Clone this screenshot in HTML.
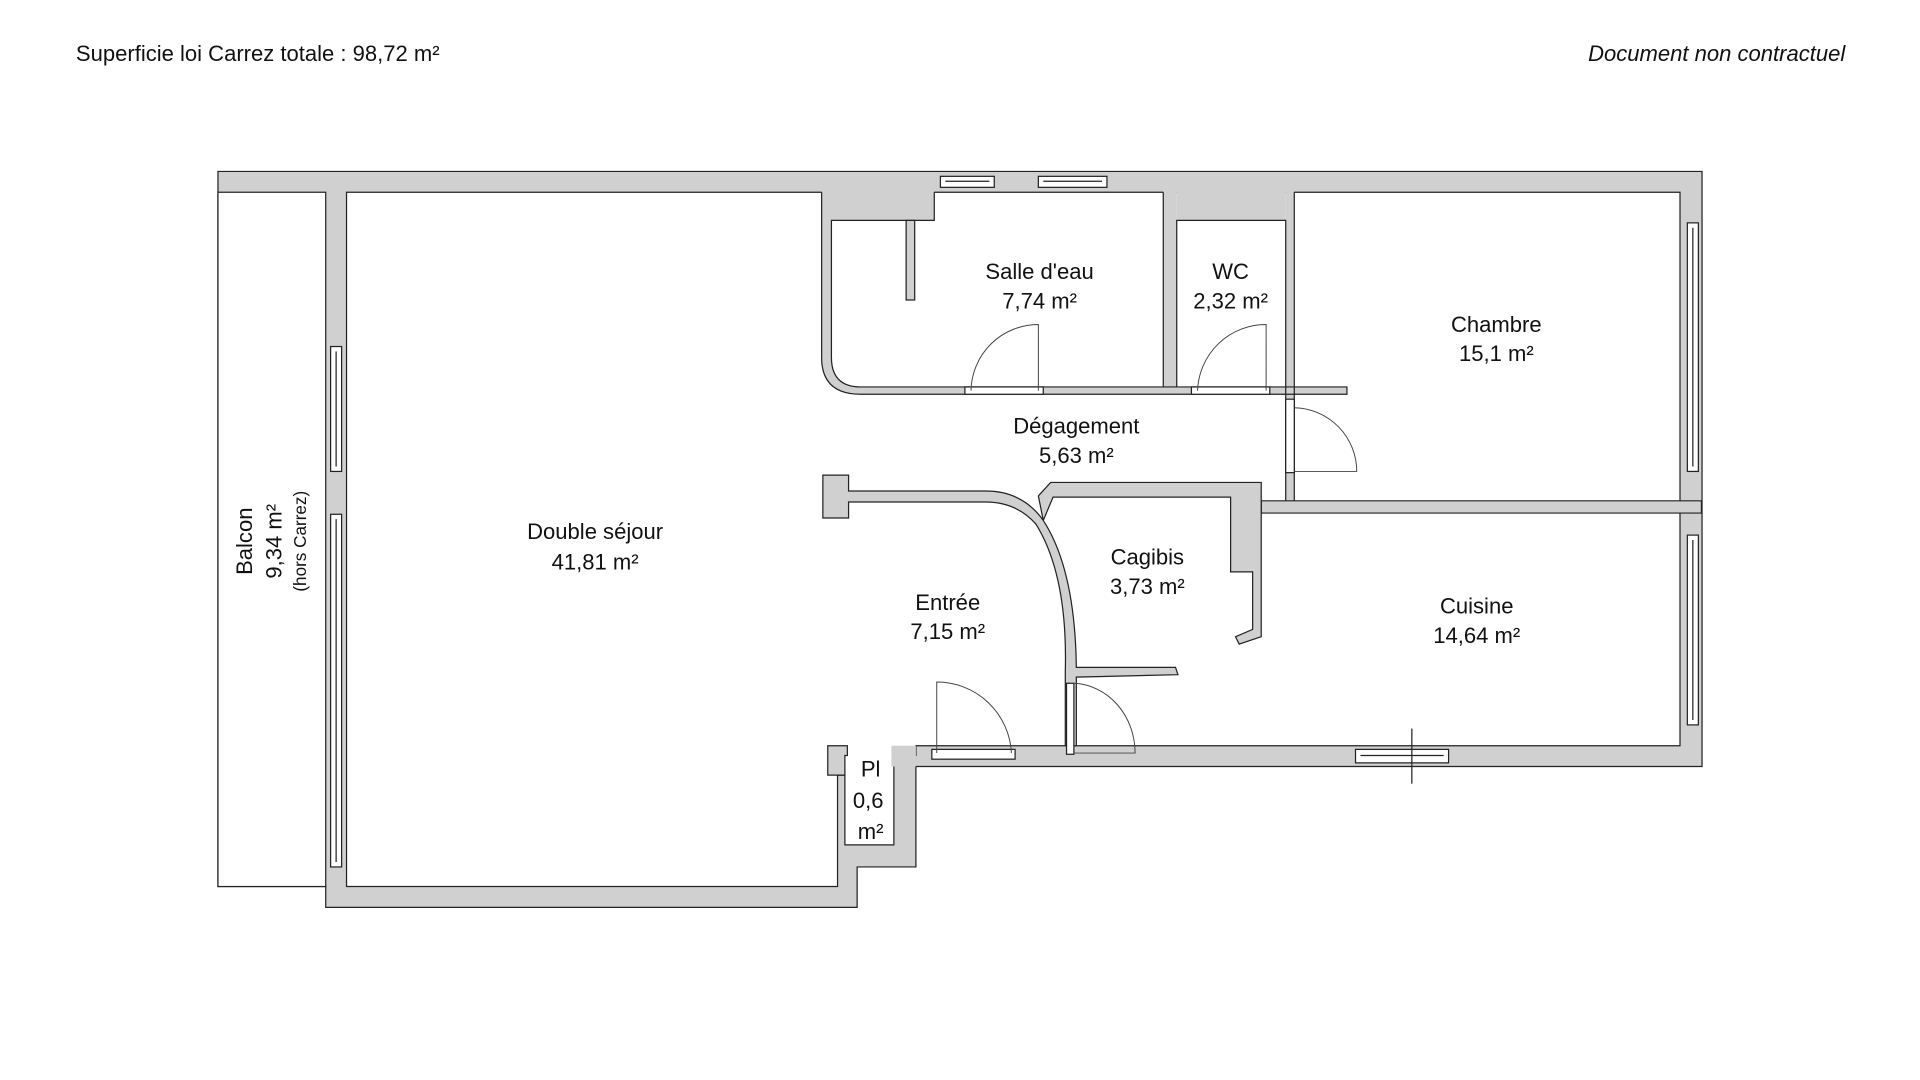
<!DOCTYPE html>
<html><head><meta charset="utf-8"><style>
html,body{margin:0;padding:0;background:#fff;width:1920px;height:1080px;overflow:hidden}
svg{display:block}
text{font-family:"Liberation Sans",sans-serif;fill:#111}
</style></head><body>
<svg width="1920" height="1080" viewBox="0 0 1568 882" xmlns="http://www.w3.org/2000/svg">
<text x="62" y="50" font-size="18">Superficie loi Carrez totale : 98,72 m²</text>
<text x="1507" y="50" font-size="18" font-style="italic" text-anchor="end">Document non contractuel</text>

<g stroke="#222" stroke-width="1">
<polygon fill="#d0d0d0" points="178,140 1390,140 1390,626 748,626 748,708 700,708 700,741 266,741 266,724 178,724"/>
<rect x="178" y="157" width="88" height="567" fill="#fff"/>
<polygon fill="#fff" points="283,157 1372,157 1372,609 748,609 748,617 730,617 730,690 690,690 690,633 684,633 684,724 283,724"/>
<g fill="#d0d0d0" stroke="none">
<path d="M671,156 L763,156 L763,180 L679,180 L679,292 Q679,316 703,316 L1100,316 L1100,322 L703,322 Q671,322 671,292 Z"/>
<rect x="950" y="156" width="11" height="160"/>
<rect x="961" y="156" width="89" height="24"/>
<rect x="1050" y="156" width="7" height="253"/>
</g>
<g fill="none">
<path d="M671,157 L671,292 Q671,322 703,322 L1100,322 L1100,316 L703,316 Q679,316 679,292 L679,180 L763,180 L763,157"/>
<path d="M950,157 L950,316 M961,316 L961,180 L1050,180 L1050,409 M1057,157 L1057,409"/>
</g>
<g fill="#d0d0d0">
<rect x="740" y="180" width="7" height="65"/>
<path d="M1030,409 L1389.5,409 L1389.5,419 L1030,419 Z"/>
<path d="M848,405 L858,394 L1030,394 L1030,520 L1012,526 L1009,520 L1023,514 L1023,467 L1005,467 L1005,406 L860,406 L852,425 Z"/>
<path d="M672,388 L693,388 L693,401 L805,401 Q835,401 852,425 Q878,465 879,545 L960,545 L962,551 L879,553 L879,609 L870,609 L870,548 Q872,470 846,428 Q830,410 805,410 L693,410 L693,423 L672,423 Z"/>
<path d="M676,609 L692,609 L692,617 L690,617 L690,633 L676,633 Z"/>
<rect x="728" y="609" width="20" height="17" stroke="none"/>
</g>
<g fill="#fff">
<rect x="768" y="144" width="44" height="9"/><line x1="772" y1="148" x2="808" y2="148"/>
<rect x="848" y="144" width="56" height="9"/><line x1="852" y1="148" x2="900" y2="148"/>
<rect x="270" y="283" width="9" height="102"/><line x1="274.5" y1="287" x2="274.5" y2="381"/>
<rect x="270" y="420" width="9" height="288"/><line x1="274.5" y1="424" x2="274.5" y2="704"/>
<rect x="1378" y="182" width="9" height="203"/><line x1="1382.5" y1="186" x2="1382.5" y2="381"/>
<rect x="1378" y="437" width="9" height="155"/><line x1="1382.5" y1="441" x2="1382.5" y2="588"/>
<rect x="1107" y="612" width="76" height="11"/><line x1="1111" y1="617" x2="1179" y2="617"/>
<line x1="1153" y1="595" x2="1153" y2="640"/>
<rect x="788" y="316" width="64" height="6"/>
<rect x="973" y="316" width="64" height="6"/>
<rect x="1050" y="326" width="7" height="60"/>
<rect x="761" y="612" width="68" height="8"/>
<rect x="871" y="558" width="6" height="58"/>
</g>
<g fill="none" stroke="#444" stroke-width="0.8">
<path d="M848,319 L848,265 A55,55 0 0 0 793,319"/>
<path d="M1034,319 L1034,265 A56,56 0 0 0 978,319"/>
<path d="M1057,385 L1108,385 A52,52 0 0 0 1057,333"/>
<path d="M765,615 L765,557 A61,61 0 0 1 826,615"/>
<path d="M877,615 L927,615 A52,57 0 0 0 877,558"/>
</g>
</g>

<g font-size="18" text-anchor="middle">
<text x="849" y="228">Salle d'eau</text><text x="849" y="252">7,74 m²</text>
<text x="1005" y="228">WC</text><text x="1005" y="252">2,32 m²</text>
<text x="1222" y="271">Chambre</text><text x="1222" y="295">15,1 m²</text>
<text x="879" y="354">Dégagement</text><text x="879" y="378">5,63 m²</text>
<text x="486" y="440">Double séjour</text><text x="486" y="465">41,81 m²</text>
<text x="937" y="461">Cagibis</text><text x="937" y="485">3,73 m²</text>
<text x="774" y="498">Entrée</text><text x="774" y="522">7,15 m²</text>
<text x="1206" y="501">Cuisine</text><text x="1206" y="525">14,64 m²</text>
<text x="711" y="634">Pl</text><text x="709" y="660">0,6</text><text x="711" y="685">m²</text>
<g transform="translate(206,442) rotate(-90)"><text x="0" y="0">Balcon</text><text x="0" y="24">9,34 m²</text><text x="0" y="44" font-size="14">(hors Carrez)</text></g>
</g>
</svg>
</body></html>
